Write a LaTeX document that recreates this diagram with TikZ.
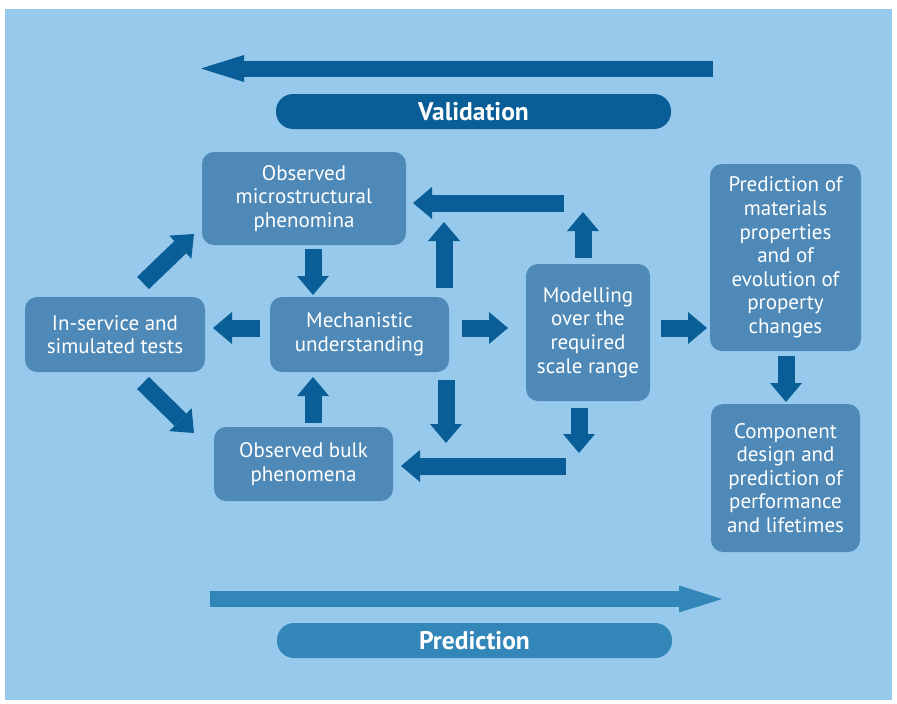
\documentclass[tikz,border=0pt]{standalone}
\usepackage{fontspec}
\setmainfont{PT Sans}
\usetikzlibrary{arrows.meta,calc}
\definecolor{bg}{HTML}{96C9EC}
\definecolor{boxc}{HTML}{4E89B7}
\definecolor{dark}{HTML}{0A5E97}
\definecolor{pred}{HTML}{3387B8}
\begin{document}
\begin{tikzpicture}[x=1pt,y=-1pt,
  box/.style={fill=boxc, rounded corners=12pt, text=white, align=center,
    font=\fontsize{21}{23.6}\selectfont, inner sep=0pt},
  pill/.style={rounded corners=17pt, text=white, minimum width=395pt, minimum height=35pt,
    font=\fontsize{25.5}{28}\selectfont\bfseries, inner sep=0pt},
  barrow/.style={draw=dark, line width=17pt, -{Triangle[length=19pt,width=32pt,line width=0pt]}},
  bigarrow/.style={line width=16pt, -{Triangle[length=43pt,width=27pt,line width=0pt]}}]
\useasboundingbox (0,0) rectangle (897,704);
\fill[white] (0,0) rectangle (897,704);
\fill[bg] (5,9) rectangle (892,700);

% big arrows and pills
\coordinate (vs) at (713,68.5);
\coordinate (ve) at (201,68.5);
\draw[bigarrow, draw=dark] (vs) -- (ve);
\node[pill, fill=dark] (valid) at (473.5,111.5) {Validation};
\coordinate (ps) at (210,599);
\coordinate (pe) at (722,599);
\draw[bigarrow, draw=pred] (ps) -- (pe);
\node[pill, fill=pred] (predl) at (474.5,640.5) {Prediction};

% boxes
\node[box, minimum width=204pt, minimum height=93pt] (micro) at (304,198.5) {Observed\\microstructural\\phenomina};
\node[box, minimum width=180pt, minimum height=75pt] (tests) at (115,334.5) {In-service and\\simulated tests};
\node[box, minimum width=179pt, minimum height=75pt] (mech) at (359.5,334.5) {Mechanistic\\understanding};
\node[box, minimum width=179pt, minimum height=74pt] (bulk) at (303.5,464) {Observed bulk\\phenomena};
\node[box, minimum width=124pt, minimum height=137pt] (model) at (588,332.5) {Modelling\\over the\\required\\scale range};
\node[box, minimum width=151pt, minimum height=187pt] (predict) at (785.5,257.5) {Prediction of\\materials\\properties\\and of\\evolution of\\property\\changes};
\node[box, minimum width=149pt, minimum height=148pt] (comp) at (785.5,478) {Component\\design and\\prediction of\\performance\\and lifetimes};

% connector end points
\coordinate (a1s) at (313,249);  \coordinate (a1e) at (313,295);
\coordinate (a2s) at (313,423);  \coordinate (a2e) at (313,377);
\coordinate (a3s) at (260,328);  \coordinate (a3e) at (213,328);
\coordinate (a4s) at (143,283);  \coordinate (a4e) at (194,234);
\coordinate (a5s) at (143,383);  \coordinate (a5e) at (194,433);
\coordinate (a6s) at (444,288);  \coordinate (a6e) at (444,222);
\coordinate (a7s) at (446,380);  \coordinate (a7e) at (446,443);
\coordinate (a8s) at (564,203);  \coordinate (a8e) at (413,203);
\coordinate (a9s) at (583,258);  \coordinate (a9e) at (583,212);
\coordinate (a10s) at (579,408); \coordinate (a10e) at (579,453);
\coordinate (a11s) at (566,466); \coordinate (a11e) at (401,466);
\coordinate (a12s) at (462,328); \coordinate (a12e) at (508,328);
\coordinate (a13s) at (661,328); \coordinate (a13e) at (707,328);
\coordinate (a14s) at (786,356); \coordinate (a14e) at (786,402);

\foreach \i in {1,...,14} { \draw[barrow] (a\i s) -- (a\i e); }
\end{tikzpicture}
\end{document}
